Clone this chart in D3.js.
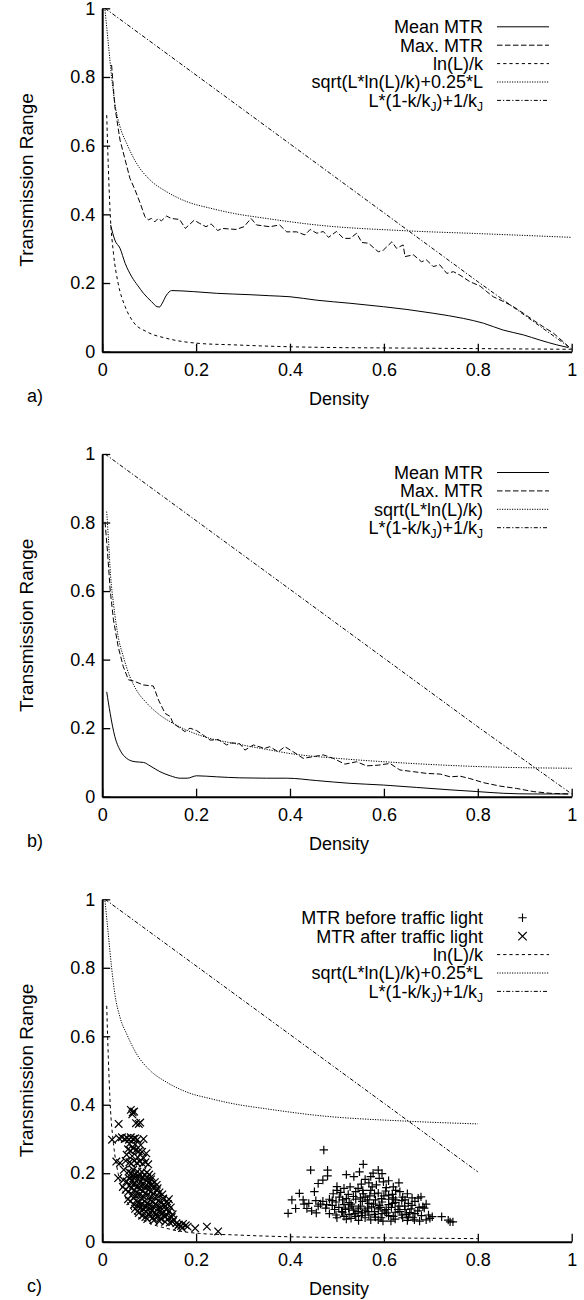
<!DOCTYPE html>
<html><head><meta charset="utf-8">
<script src="https://cdn.jsdelivr.net/npm/d3@7"></script>
<style>
body{margin:0;background:#fff;}
text{font-family:"Liberation Sans",Arial,Helvetica,sans-serif;fill:#000;}
</style></head>
<body>
<svg id="chart" width="584" height="1300"></svg>
<script>
// ---------- DATA ----------
const xTicks = [0, 0.2, 0.4, 0.6, 0.8, 1];
const xTickLabels = ["0", "0.2", "0.4", "0.6", "0.8", "1"];
const yTicks = [0, 0.2, 0.4, 0.6, 0.8, 1];
const yTickLabels = ["0", "0.2", "0.4", "0.6", "0.8", "1"];
const xTitle = "Density";
const yTitle = "Transmission Range";
const panelLabels = ["a)", "b)", "c)"];

// panel a
const meanA = [[0.018,0.369],[0.027,0.325],[0.038,0.301],[0.049,0.257],[0.063,0.218],[0.076,0.192],[0.088,0.170],[0.105,0.146],[0.117,0.131],[0.122,0.130],[0.127,0.139],[0.137,0.165],[0.148,0.178],[0.170,0.177],[0.194,0.175],[0.244,0.170],[0.315,0.166],[0.357,0.163],[0.400,0.160],[0.457,0.150],[0.528,0.141],[0.599,0.131],[0.649,0.123],[0.705,0.112],[0.769,0.097],[0.812,0.083],[0.854,0.063],[0.897,0.049],[0.932,0.034],[0.968,0.020],[0.993,0.012]];
const maxA = [[0.020,0.835],[0.027,0.713],[0.038,0.616],[0.049,0.558],[0.059,0.505],[0.070,0.471],[0.081,0.432],[0.091,0.393],[0.098,0.384],[0.105,0.388],[0.112,0.378],[0.119,0.388],[0.126,0.381],[0.137,0.395],[0.147,0.388],[0.165,0.385],[0.177,0.359],[0.196,0.383],[0.207,0.374],[0.221,0.364],[0.232,0.372],[0.246,0.353],[0.256,0.359],[0.285,0.356],[0.302,0.364],[0.317,0.388],[0.329,0.369],[0.357,0.364],[0.378,0.369],[0.393,0.349],[0.414,0.349],[0.432,0.340],[0.443,0.356],[0.457,0.345],[0.471,0.350],[0.482,0.333],[0.499,0.350],[0.514,0.330],[0.528,0.330],[0.542,0.345],[0.553,0.318],[0.567,0.316],[0.588,0.291],[0.599,0.296],[0.617,0.320],[0.627,0.301],[0.641,0.311],[0.645,0.277],[0.663,0.282],[0.680,0.262],[0.691,0.267],[0.705,0.248],[0.719,0.253],[0.734,0.228],[0.748,0.233],[0.762,0.223],[0.783,0.204],[0.805,0.191],[0.819,0.175],[0.833,0.160],[0.855,0.146],[0.876,0.131],[0.897,0.112],[0.918,0.092],[0.939,0.073],[0.961,0.054],[0.982,0.029],[0.993,0.015]];
const lnLk = [[0.0096,0.689],[0.013,0.539],[0.017,0.403],[0.024,0.287],[0.034,0.199],[0.049,0.131],[0.066,0.087],[0.095,0.058],[0.137,0.039],[0.208,0.024],[0.279,0.020],[0.357,0.016],[0.5,0.012],[0.6,0.011],[0.8,0.009],[1.0,0.007]];
const sqrtA = [[0.006,0.995],[0.013,0.898],[0.020,0.801],[0.027,0.723],[0.038,0.655],[0.052,0.607],[0.073,0.549],[0.102,0.500],[0.137,0.466],[0.180,0.437],[0.230,0.418],[0.279,0.403],[0.350,0.388],[0.457,0.369],[0.649,0.352],[0.800,0.344],[1.0,0.333]];
const linear = [[0.006,1.0],[0.8,0.204],[1.0,0.008]];

// panel b
const meanB = [[0.0096,0.306],[0.017,0.243],[0.027,0.175],[0.038,0.136],[0.052,0.112],[0.070,0.102],[0.088,0.100],[0.102,0.090],[0.123,0.073],[0.145,0.061],[0.166,0.054],[0.181,0.054],[0.201,0.061],[0.244,0.058],[0.293,0.055],[0.350,0.054],[0.393,0.054],[0.457,0.047],[0.528,0.039],[0.599,0.034],[0.670,0.027],[0.741,0.020],[0.798,0.015],[0.854,0.010],[0.918,0.008],[0.993,0.008]];
const maxB = [[0.006,0.802],[0.011,0.720],[0.017,0.603],[0.024,0.516],[0.034,0.438],[0.045,0.379],[0.056,0.341],[0.066,0.338],[0.088,0.326],[0.109,0.323],[0.120,0.282],[0.134,0.243],[0.145,0.234],[0.151,0.214],[0.166,0.200],[0.176,0.190],[0.187,0.200],[0.201,0.193],[0.215,0.180],[0.230,0.165],[0.247,0.167],[0.265,0.151],[0.276,0.157],[0.293,0.155],[0.304,0.136],[0.322,0.151],[0.346,0.141],[0.357,0.146],[0.375,0.131],[0.389,0.146],[0.407,0.131],[0.428,0.112],[0.450,0.117],[0.471,0.122],[0.492,0.112],[0.517,0.095],[0.542,0.102],[0.563,0.090],[0.588,0.092],[0.613,0.097],[0.634,0.078],[0.663,0.073],[0.691,0.068],[0.720,0.066],[0.741,0.058],[0.762,0.060],[0.783,0.053],[0.812,0.041],[0.847,0.031],[0.883,0.024],[0.918,0.015],[0.954,0.010],[0.993,0.008]];
const sqrtB = [[0.0096,0.832],[0.013,0.759],[0.018,0.642],[0.024,0.564],[0.034,0.467],[0.045,0.409],[0.059,0.350],[0.073,0.311],[0.095,0.273],[0.123,0.238],[0.151,0.214],[0.187,0.190],[0.230,0.170],[0.279,0.156],[0.350,0.138],[0.400,0.126],[0.500,0.112],[0.600,0.102],[0.700,0.094],[0.800,0.088],[1.0,0.083]];

// panel c scatter
const mtrBefore = [[0.472,0.268],[0.444,0.209],[0.480,0.209],[0.480,0.192],[0.556,0.226],[0.520,0.196],[0.548,0.204],[0.572,0.190],[0.588,0.209],[0.596,0.199],[0.577,0.200],[0.536,0.190],[0.460,0.170],[0.470,0.180],
[0.500,0.161],[0.528,0.160],[0.552,0.168],[0.568,0.172],[0.584,0.166],[0.599,0.175],[0.620,0.160],[0.632,0.172],[0.610,0.178],[0.560,0.182],[0.590,0.185],
[0.420,0.141],[0.452,0.146],[0.492,0.140],[0.508,0.144],[0.524,0.138],[0.540,0.146],[0.556,0.140],[0.572,0.150],[0.588,0.142],[0.604,0.148],[0.618,0.138],[0.634,0.146],[0.650,0.140],[0.673,0.127],[0.679,0.131],
[0.404,0.122],[0.428,0.122],[0.470,0.118],[0.484,0.124],[0.498,0.116],[0.512,0.122],[0.526,0.114],[0.540,0.124],[0.554,0.118],[0.568,0.112],[0.582,0.122],[0.596,0.116],[0.610,0.124],[0.624,0.114],[0.638,0.120],[0.652,0.112],[0.666,0.118],[0.683,0.102],[0.690,0.110],
[0.412,0.097],[0.436,0.097],[0.460,0.104],[0.476,0.098],[0.490,0.106],[0.504,0.100],[0.518,0.094],[0.532,0.104],[0.546,0.098],[0.560,0.092],[0.574,0.102],[0.588,0.096],[0.602,0.090],[0.616,0.100],[0.630,0.094],[0.644,0.104],[0.658,0.096],[0.672,0.090],[0.686,0.098],
[0.396,0.083],[0.484,0.082],[0.498,0.078],[0.512,0.086],[0.526,0.080],[0.540,0.074],[0.554,0.084],[0.568,0.078],[0.582,0.072],[0.596,0.082],[0.610,0.076],[0.624,0.086],[0.638,0.078],[0.652,0.072],[0.666,0.082],[0.680,0.076],[0.695,0.078],[0.698,0.068],
[0.520,0.066],[0.546,0.062],[0.572,0.064],[0.598,0.060],[0.624,0.066],[0.650,0.062],[0.676,0.060],[0.703,0.073],[0.723,0.073],[0.737,0.063],[0.741,0.058],[0.747,0.058],
[0.530,0.110],[0.560,0.130],[0.590,0.106],[0.620,0.128],[0.580,0.088],[0.610,0.108],[0.545,0.088],[0.640,0.130],[0.570,0.134],[0.600,0.134],[0.505,0.130],[0.655,0.085],
[0.515,0.108],[0.525,0.098],[0.535,0.092],[0.550,0.104],[0.565,0.098],[0.578,0.110],[0.592,0.100],[0.605,0.094],[0.618,0.112],[0.632,0.104],[0.645,0.094],[0.660,0.106],[0.675,0.100],
[0.495,0.094],[0.510,0.088],[0.538,0.082],[0.552,0.076],[0.566,0.088],[0.580,0.080],[0.594,0.070],[0.606,0.084],[0.620,0.074],[0.634,0.088],[0.648,0.080],[0.662,0.070],
[0.500,0.070],[0.515,0.074],[0.530,0.068],[0.560,0.070],[0.588,0.064],[0.615,0.060],[0.640,0.070],[0.665,0.064],[0.690,0.064],
[0.520,0.126],[0.535,0.132],[0.550,0.128],[0.565,0.122],[0.580,0.140],[0.595,0.126],[0.610,0.136],[0.625,0.122],[0.645,0.122],[0.660,0.128],
[0.440,0.112],[0.455,0.120],[0.465,0.110],[0.478,0.108],[0.490,0.120],[0.500,0.150],[0.515,0.156],[0.545,0.156],[0.575,0.160],[0.605,0.158],[0.625,0.150],[0.555,0.150],
[0.430,0.110],[0.446,0.090],[0.456,0.084]];
const mtrAfter = [[0.061,0.385],[0.065,0.378],[0.064,0.372],[0.068,0.380],
[0.035,0.344],[0.072,0.346],[0.078,0.344],[0.081,0.348],
[0.021,0.298],[0.036,0.302],[0.042,0.305],[0.048,0.300],[0.053,0.303],[0.057,0.298],[0.061,0.305],[0.066,0.300],[0.070,0.302],[0.075,0.298],[0.088,0.300],
[0.055,0.270],[0.060,0.266],[0.066,0.272],[0.072,0.268],[0.078,0.264],[0.085,0.262],[0.094,0.258],
[0.030,0.234],[0.038,0.230],[0.050,0.236],[0.058,0.232],[0.062,0.228],[0.068,0.236],[0.074,0.230],[0.080,0.234],[0.086,0.228],[0.092,0.232],[0.098,0.226],
[0.056,0.205],[0.062,0.200],[0.066,0.210],[0.070,0.196],[0.075,0.205],[0.080,0.198],[0.085,0.204],[0.090,0.195],[0.095,0.202],[0.100,0.196],[0.105,0.190],
[0.034,0.186],[0.045,0.180],[0.052,0.176],[0.058,0.184],[0.064,0.178],[0.070,0.172],[0.076,0.182],[0.082,0.176],[0.088,0.170],[0.094,0.178],[0.100,0.172],[0.106,0.168],[0.112,0.174],[0.116,0.166],
[0.050,0.152],[0.056,0.146],[0.062,0.156],[0.068,0.150],[0.074,0.144],[0.080,0.154],[0.086,0.148],[0.092,0.142],[0.098,0.152],[0.104,0.146],[0.110,0.140],[0.116,0.150],[0.122,0.144],[0.128,0.138],
[0.055,0.124],[0.060,0.118],[0.066,0.128],[0.072,0.120],[0.078,0.114],[0.084,0.126],[0.090,0.118],[0.096,0.112],[0.102,0.122],[0.108,0.116],[0.114,0.110],[0.120,0.120],[0.126,0.114],[0.132,0.108],[0.138,0.118],[0.142,0.124],
[0.070,0.096],[0.076,0.090],[0.082,0.100],[0.088,0.094],[0.094,0.088],[0.100,0.098],[0.106,0.092],[0.112,0.086],[0.118,0.096],[0.124,0.090],[0.130,0.084],[0.136,0.094],[0.142,0.088],[0.146,0.100],
[0.085,0.076],[0.092,0.072],[0.100,0.078],[0.108,0.070],[0.116,0.074],[0.124,0.068],[0.132,0.074],[0.140,0.066],[0.148,0.072],[0.152,0.064],
[0.150,0.058],[0.158,0.054],[0.163,0.050],[0.168,0.046],[0.172,0.052],[0.178,0.048],[0.182,0.044],[0.198,0.039],[0.223,0.044],[0.247,0.030],[0.160,0.044],[0.170,0.040],
[0.060,0.190],[0.068,0.186],[0.078,0.190],[0.086,0.186],[0.096,0.188],[0.104,0.182],
[0.058,0.164],[0.066,0.166],[0.074,0.160],[0.082,0.164],[0.090,0.160],[0.098,0.162],[0.108,0.158],[0.118,0.156],
[0.064,0.138],[0.072,0.134],[0.080,0.138],[0.088,0.132],[0.096,0.136],[0.104,0.132],[0.112,0.128],[0.120,0.132],[0.130,0.126],
[0.068,0.108],[0.076,0.104],[0.084,0.110],[0.092,0.104],[0.100,0.108],[0.108,0.102],[0.116,0.106],[0.124,0.100],[0.134,0.104],[0.140,0.110],
[0.078,0.084],[0.090,0.082],[0.102,0.086],[0.114,0.080],[0.126,0.082],[0.138,0.078],[0.150,0.080],
[0.096,0.066],[0.110,0.062],[0.122,0.060],[0.134,0.058],[0.144,0.056],
[0.044,0.160],[0.046,0.210],[0.052,0.254],[0.064,0.250],[0.076,0.246],[0.088,0.244],[0.058,0.286],[0.070,0.284],[0.082,0.282]];

const legendA = ["Mean MTR", "Max. MTR", "ln(L)/k", "sqrt(L*ln(L)/k)+0.25*L", "L*(1-k/k_J)+1/k_J"];
const legendB = ["Mean MTR", "Max. MTR", "sqrt(L*ln(L)/k)", "L*(1-k/k_J)+1/k_J"];
const legendC = ["MTR before traffic light", "MTR after traffic light", "ln(L)/k", "sqrt(L*ln(L)/k)+0.25*L", "L*(1-k/k_J)+1/k_J"];

// ---------- STYLES ----------
const DASH = {solid: null, max: "5.5,2.5", ln: "3.2,3", sqrt: "1.2,1.3", lin: "4,2,1.2,2"};

const svg = d3.select("#chart");
const X0 = 102.2, X1 = 571.7;
const x = d3.scaleLinear().domain([0, 1]).range([X0, X1]);

const panels = [
  {top: 8.3, bottom: 351.7, label: panelLabels[0],
   series: [
     {data: meanA, dash: DASH.solid, curve: d3.curveMonotoneX},
     {data: maxA, dash: DASH.max, curve: d3.curveLinear},
     {data: lnLk, dash: DASH.ln, curve: d3.curveMonotoneX},
     {data: sqrtA, dash: DASH.sqrt, curve: d3.curveMonotoneX},
     {data: linear, dash: DASH.lin, curve: d3.curveLinear}],
   legend: legendA.map((t, i) => ({text: t, dash: [DASH.solid, DASH.max, DASH.ln, DASH.sqrt, DASH.lin][i]}))},
  {top: 454, bottom: 796.7, label: panelLabels[1],
   series: [
     {data: meanB, dash: DASH.solid, curve: d3.curveMonotoneX},
     {data: maxB, dash: DASH.max, curve: d3.curveLinear},
     {data: sqrtB, dash: DASH.sqrt, curve: d3.curveMonotoneX},
     {data: linear, dash: DASH.lin, curve: d3.curveLinear}],
   legend: legendB.map((t, i) => ({text: t, dash: [DASH.solid, DASH.max, DASH.sqrt, DASH.lin][i]}))},
  {top: 899.3, bottom: 1241.7, label: panelLabels[2],
   series: [
     {data: lnLk.filter(d => d[0] <= 0.8), dash: DASH.ln, curve: d3.curveMonotoneX},
     {data: sqrtA.filter(d => d[0] <= 0.8), dash: DASH.sqrt, curve: d3.curveMonotoneX},
     {data: linear.filter(d => d[0] <= 0.8), dash: DASH.lin, curve: d3.curveLinear}],
   scatter: [{data: mtrBefore, marker: "plus"}, {data: mtrAfter, marker: "cross"}],
   legend: legendC.map((t, i) => (i === 0 ? {text: t, marker: "plus"} : i === 1 ? {text: t, marker: "cross"} :
            {text: t, dash: [DASH.ln, DASH.sqrt, DASH.lin][i - 2]}))}
];

const FS = 18;

function markerPath(type, r) {
  if (type === "plus") return `M${-r},0H${r}M0,${-r}V${r}`;
  return `M${-r},${-r}L${r},${r}M${-r},${r}L${r},${-r}`;
}

function legendText(sel, str) {
  const parts = str.split(/(_J)/).filter(p => p.length);
  let shiftBack = false;
  parts.forEach(p => {
    if (p === "_J") {
      sel.append("tspan").attr("font-size", 12).attr("dy", 4).text("J");
      shiftBack = true;
    } else {
      const t = sel.append("tspan").text(p);
      if (shiftBack) t.attr("dy", -4);
      shiftBack = false;
    }
  });
}

panels.forEach(p => {
  const y = d3.scaleLinear().domain([0, 1]).range([p.bottom, p.top]);
  const g = svg.append("g");

  p.series.forEach(s => {
    g.append("path")
      .datum(s.data)
      .attr("fill", "none")
      .attr("stroke", "#000")
      .attr("stroke-width", 1)
      .attr("stroke-dasharray", s.dash)
      .attr("d", d3.line().x(d => x(d[0])).y(d => y(d[1])).curve(s.curve));
  });

  if (p.scatter) {
    p.scatter.forEach(s => {
      g.append("g").selectAll("path").data(s.data).join("path")
        .attr("transform", d => `translate(${x(d[0])},${y(d[1])})`)
        .attr("d", markerPath(s.marker, s.marker === "plus" ? 4.2 : 3.8))
        .attr("stroke", "#000").attr("stroke-width", 1.2).attr("fill", "none");
    });
  }

  const xAxis = d3.axisBottom(x).tickValues(xTicks).tickFormat((d, i) => xTickLabels[i])
    .tickSize(-8).tickSizeOuter(0).tickPadding(12);
  const ga = g.append("g").attr("transform", `translate(0,${p.bottom})`).call(xAxis);
  const yAxis = d3.axisLeft(y).tickValues(yTicks).tickFormat((d, i) => yTickLabels[i])
    .tickSize(-8).tickSizeOuter(0).tickPadding(7);
  const gy = g.append("g").attr("transform", `translate(${X0},0)`).call(yAxis);
  [ga, gy].forEach(a => {
    a.select(".domain").attr("stroke", "#000").attr("stroke-width", 2);
    a.selectAll(".tick line").attr("stroke", "#000").attr("stroke-width", 1.3);
    a.selectAll(".tick text").attr("font-size", FS).attr("fill", "#000")
      .attr("font-family", '"Liberation Sans",Arial,sans-serif');
  });

  g.append("text").attr("x", (X0 + X1) / 2 + 2).attr("y", p.bottom + 53)
    .attr("text-anchor", "middle").attr("font-size", FS).text(xTitle);
  g.append("text").attr("transform", `translate(33,${(p.top + p.bottom) / 2}) rotate(-90)`)
    .attr("text-anchor", "middle").attr("font-size", FS + 1).text(yTitle);
  g.append("text").attr("x", 27).attr("y", p.bottom + 50)
    .attr("font-size", FS).text(p.label);

  const lg = g.append("g");
  p.legend.forEach((L, i) => {
    const ly = p.top + 18.5 + i * 18.4;
    const t = lg.append("text").attr("x", 483).attr("y", ly + 6.3)
      .attr("text-anchor", "end").attr("font-size", FS);
    legendText(t, L.text);
    if (L.marker) {
      lg.append("path").attr("transform", `translate(522.5,${ly})`)
        .attr("d", markerPath(L.marker, 4.2)).attr("stroke", "#000").attr("stroke-width", 1.1).attr("fill", "none");
    } else {
      lg.append("line").attr("x1", 497).attr("x2", 549).attr("y1", ly).attr("y2", ly)
        .attr("stroke", "#000").attr("stroke-width", 1).attr("stroke-dasharray", L.dash);
    }
  });
});
</script>
</body></html>
